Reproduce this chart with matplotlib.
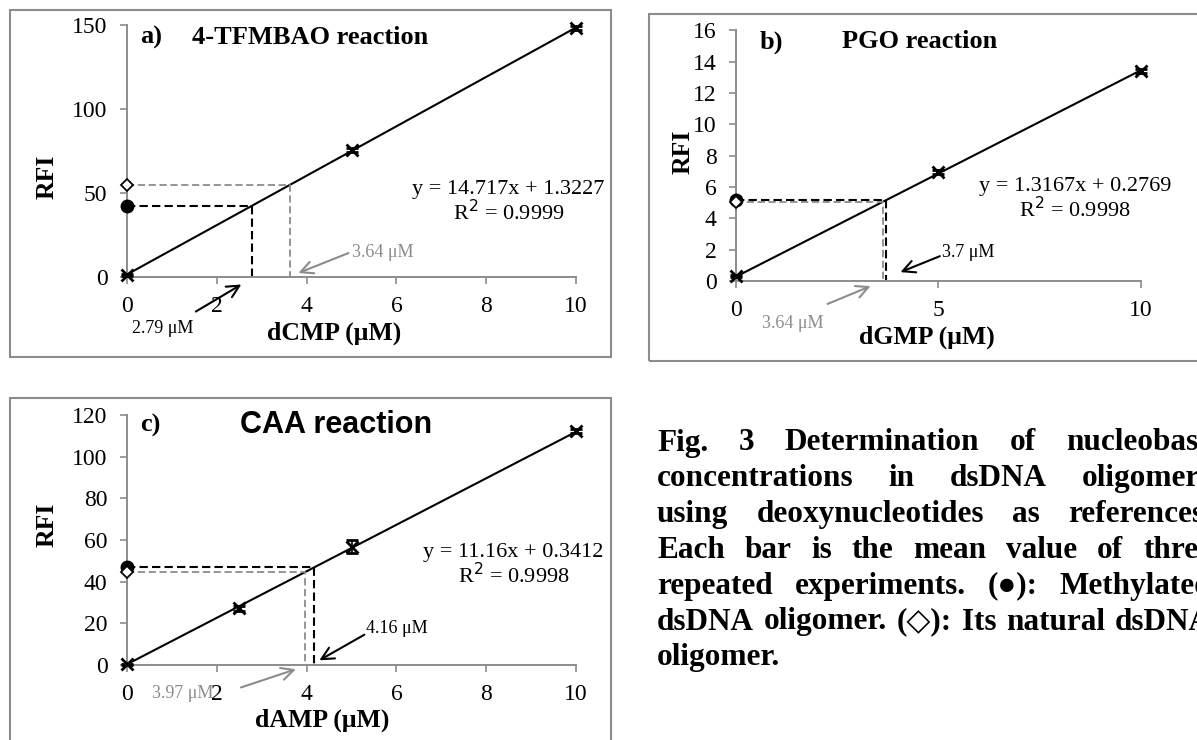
import matplotlib
matplotlib.use('Agg')
import numpy as np
import matplotlib.pyplot as plt
from matplotlib.patches import Rectangle

plt.rcParams['font.family'] = ['Liberation Serif', 'DejaVu Serif', 'DejaVu Sans']

# standards: deoxynucleotide concentration (uM) vs RFI
a_x = [0, 5, 10]
a_y = [1.0, 75.5, 148.2]
a_err = [0.4, 1.2, 1.0]
b_x = [0, 5, 10]
b_y = [0.32, 6.98, 13.4]
b_err = [0.05, 0.12, 0.12]
c_x = [0, 2.5, 5, 10]
c_y = [0.3, 27.2, 56.8, 112.4]
c_err = [0.3, 1.2, 3.2, 1.0]

# trendlines as printed on the chart
slopes = [14.717, 1.3167, 11.16]
intercepts = [1.3227, 0.2769, 0.3412]
r2 = ['0.9999', '0.9998', '0.9998']

# oligomer samples: measured RFI and read-off concentration
meth_rfi = [42.4, 5.15, 47.0]
meth_conc = [2.79, 3.7, 4.16]
nat_rfi = [54.9, 5.07, 44.6]
nat_conc = [3.64, 3.64, 3.97]

W, H = 1197, 740
GREY = '#8c8c8c'
fig = plt.figure(figsize=(W / 100, H / 100), dpi=100)


def px_axes(left, top, right, bottom):
    return fig.add_axes([left / W, 1 - bottom / H, (right - left) / W, (bottom - top) / H])


def ftext(x, y, s, **kw):
    return fig.text(x / W, 1 - y / H, s, **kw)


def frame(left, top, right, bottom):
    fig.patches.append(Rectangle((left / W, 1 - bottom / H), (right - left) / W, (bottom - top) / H,
                                 transform=fig.transFigure, fill=False, ec=GREY, lw=1.5))


def panel(ax, k, xs, ys, errs, xlim, ylim, xticks, yticks, eq_xy):
    ax.set_xlim(*xlim)
    ax.set_ylim(*ylim)
    ax.set_xticks(xticks)
    ax.set_yticks(yticks)
    for s in ['top', 'right']:
        ax.spines[s].set_visible(False)
    for s in ['left', 'bottom']:
        ax.spines[s].set_color(GREY)
        ax.spines[s].set_linewidth(1.4)
    ax.tick_params(colors=GREY, labelcolor='black', labelsize=17, length=5, width=1.2, pad=9)
    xx = np.array(xlim)
    ax.plot(xx, slopes[k] * xx + intercepts[k], color='black', lw=1.5, clip_on=False)
    ax.errorbar(xs, ys, yerr=errs, fmt='x', color='black', ms=9, mew=2, capsize=4,
                elinewidth=1.2, clip_on=False, zorder=5)
    # dashed read-off lines
    ax.plot([0, nat_conc[k], nat_conc[k]], [nat_rfi[k], nat_rfi[k], 0], ls=(0, (4, 2)),
            color=GREY, lw=1.3, clip_on=False)
    ax.plot([0, meth_conc[k], meth_conc[k]], [meth_rfi[k], meth_rfi[k], 0], ls=(0, (4, 2)),
            color='black', lw=1.5, clip_on=False)
    ax.plot([0], [meth_rfi[k]], 'o', color='black', ms=9, clip_on=False, zorder=6)
    ax.plot([0], [nat_rfi[k]], 'D', mfc='white', mec='black', ms=6, mew=1.3, clip_on=False, zorder=7)
    ax.text(eq_xy[0], eq_xy[1], 'y = %sx + %s\nR$^2$ = %s' % (slopes[k], intercepts[k], r2[k]),
            fontsize=16, ha='center', va='center', multialignment='center', linespacing=1.05)


# ---------------- panel a ----------------
frame(10, 10, 611, 357)
ax_a = px_axes(127, 25, 576, 276.7)
panel(ax_a, 0, a_x, a_y, a_err, (0, 10), (0, 150), range(0, 11, 2), [0, 50, 100, 150], (8.5, 43.9))
ax_a.annotate('', xy=(2.6, -3.8), xytext=(1.48, -21.6), annotation_clip=False,
              arrowprops=dict(arrowstyle='->', color='black', lw=1.5, mutation_scale=22))
ax_a.text(0.79, -30.6, '2.79 μM', fontsize=13, ha='center', va='center')
ax_a.annotate('', xy=(3.76, 1.6), xytext=(4.99, 14.7), annotation_clip=False,
              arrowprops=dict(arrowstyle='->', color=GREY, lw=1.5, mutation_scale=22))
ax_a.text(5.02, 14.7, '3.64 μM', fontsize=13, ha='left', va='center', color=GREY)
ftext(140, 37, 'a)', fontsize=19, fontweight='bold', va='center')
ftext(192, 37, '4-TFMBAO reaction', fontsize=19, fontweight='bold', va='center')
ftext(47, 177, 'RFI', fontsize=18.5, fontweight='bold', rotation=90, ha='center', va='center')
ftext(334, 333, 'dCMP (μM)', fontsize=18.5, fontweight='bold', ha='center', va='center')

# ---------------- panel b ----------------
frame(649, 14, 1230, 361)
ax_b = px_axes(736, 30.3, 1140.7, 281)
panel(ax_b, 1, b_x, b_y, b_err, (0, 10), (0, 16), [0, 5, 10], range(0, 17, 2), (8.38, 5.17))
ax_b.annotate('', xy=(4.0, 0.5), xytext=(5.1, 1.65), annotation_clip=False,
              arrowprops=dict(arrowstyle='->', color='black', lw=1.5, mutation_scale=22))
ax_b.text(5.08, 1.8, '3.7 μM', fontsize=13, ha='left', va='center')
ax_b.annotate('', xy=(3.39, -0.26), xytext=(2.2, -1.53), annotation_clip=False,
              arrowprops=dict(arrowstyle='->', color=GREY, lw=1.5, mutation_scale=22))
ax_b.text(1.41, -2.7, '3.64 μM', fontsize=13, ha='center', va='center', color=GREY)
ftext(760, 42, 'b)', fontsize=19, fontweight='bold', va='center')
ftext(842, 42, 'PGO reaction', fontsize=19, fontweight='bold', va='center')
ftext(683, 152, 'RFI', fontsize=18.5, fontweight='bold', rotation=90, ha='center', va='center')
ftext(927, 337, 'dGMP (μM)', fontsize=18.5, fontweight='bold', ha='center', va='center')

# ---------------- panel c ----------------
frame(10, 398, 611, 760)
ax_c = px_axes(127, 415, 576, 665)
panel(ax_c, 2, c_x, c_y, c_err, (0, 10), (0, 120), range(0, 11, 2), range(0, 121, 20), (8.61, 47.6))
ax_c.annotate('', xy=(4.23, 1.6), xytext=(5.34, 15.2), annotation_clip=False,
              arrowprops=dict(arrowstyle='->', color='black', lw=1.5, mutation_scale=22))
ax_c.text(5.33, 17.6, '4.16 μM', fontsize=13, ha='left', va='center')
ax_c.annotate('', xy=(3.82, -1.6), xytext=(2.48, -11.2), annotation_clip=False,
              arrowprops=dict(arrowstyle='->', color=GREY, lw=1.5, mutation_scale=22))
ax_c.text(1.24, -13.6, '3.97 μM', fontsize=13, ha='center', va='center', color=GREY)
ftext(140, 425, 'c)', fontsize=19, fontweight='bold', va='center')
ftext(240, 425, 'CAA reaction', fontsize=22, fontweight='bold', va='center',
      family=['Liberation Sans', 'DejaVu Sans'])
ftext(47, 525, 'RFI', fontsize=18.5, fontweight='bold', rotation=90, ha='center', va='center')
ftext(322, 720, 'dAMP (μM)', fontsize=18.5, fontweight='bold', ha='center', va='center')

# ---------------- caption (justified, runs past the right edge as in the source) ----------------
caption_lines = [
    'Fig. 3 Determination of nucleobase',
    'concentrations in dsDNA oligomers',
    'using deoxynucleotides as references.',
    'Each bar is the mean value of three',
    'repeated experiments. (●): Methylated',
    'dsDNA oligomer. (◇): Its natural dsDNA',
    'oligomer.',
]
fig.canvas.draw()
renderer = fig.canvas.get_renderer()
x0, x1 = 657, 1212
for i, line in enumerate(caption_lines):
    y = 443 + 35.8 * i
    words = line.split(' ')
    texts = [ftext(0, y, w, fontsize=22.5, fontweight='bold', va='center') for w in words]
    widths = [t.get_window_extent(renderer).width for t in texts]
    if i == len(caption_lines) - 1 or len(words) == 1:
        gap = 7
    else:
        gap = (x1 - x0 - sum(widths)) / (len(words) - 1)
    x = x0
    for t, w in zip(texts, widths):
        t.set_x(x / W)
        x += w + gap

fig.savefig('out.png', dpi=100)
